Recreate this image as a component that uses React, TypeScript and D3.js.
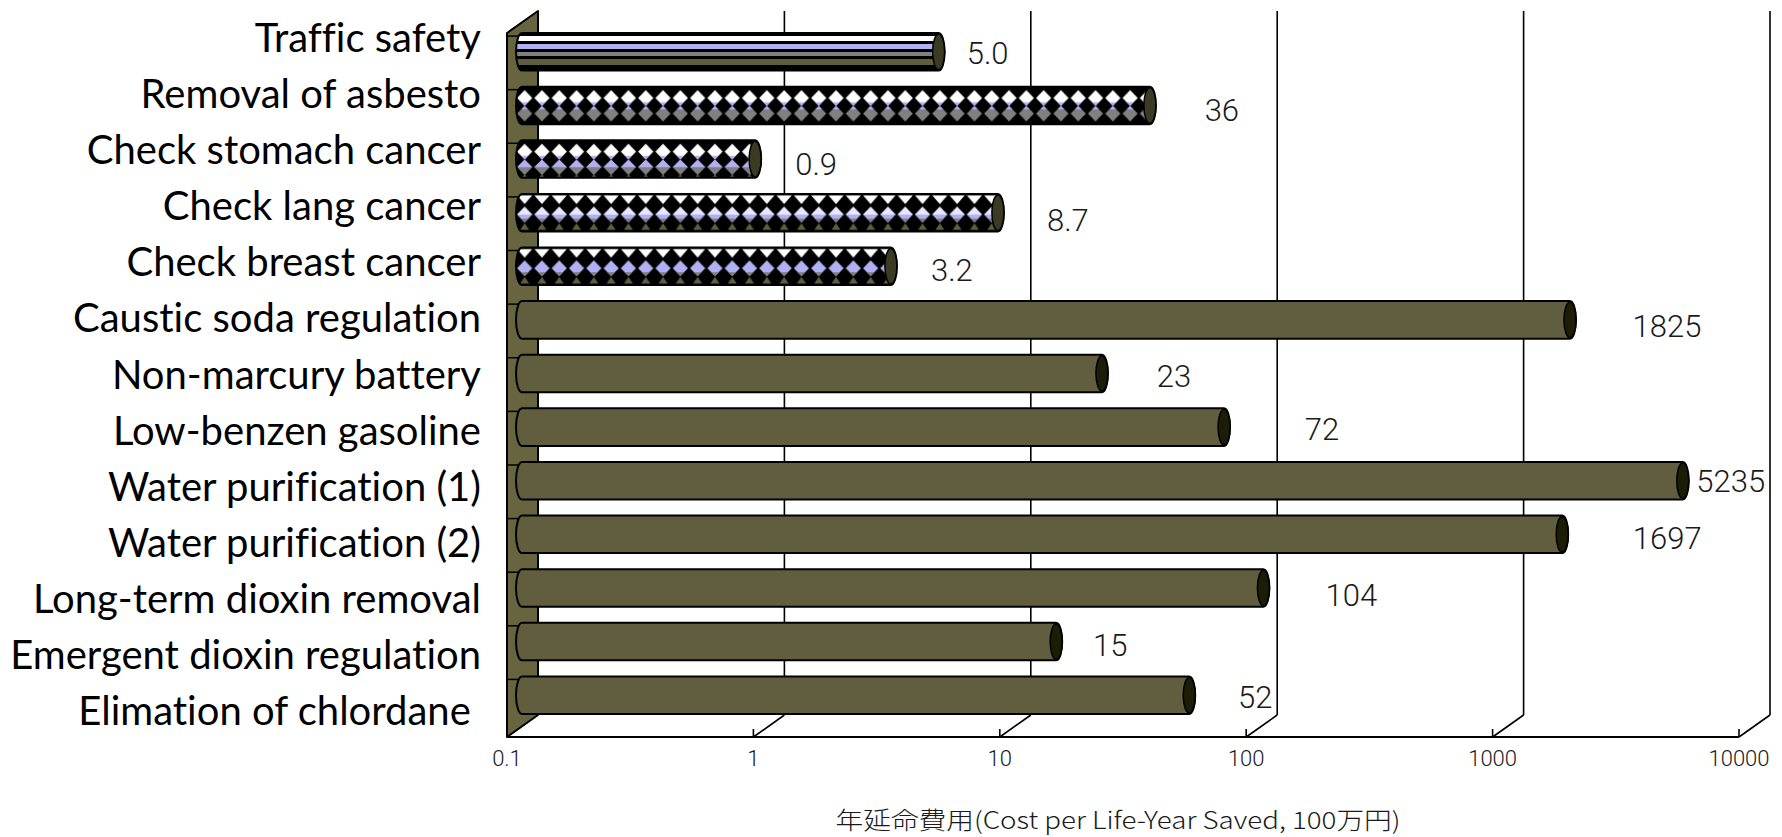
import React from 'react';
import * as d3 from 'd3';

// ---------- data ----------
const categories = [
  'Traffic safety',
  'Removal of asbesto',
  'Check stomach cancer',
  'Check lang cancer',
  'Check breast cancer',
  'Caustic soda regulation',
  'Non-marcury battery',
  'Low-benzen gasoline',
  'Water purification (1)',
  'Water purification (2)',
  'Long-term dioxin removal',
  'Emergent dioxin regulation',
  'Elimation of chlordane ',
];
const values = [5.0, 36, 0.9, 8.7, 3.2, 1825, 23, 72, 5235, 1697, 104, 15, 52];
const valueLabels = ['5.0', '36', '0.9', '8.7', '3.2', '1825', '23', '72', '5235', '1697', '104', '15', '52'];
const fillKinds = ['stripes', 'diamondA', 'diamondA2', 'diamondB', 'diamondB2', 'solid', 'solid', 'solid', 'solid', 'solid', 'solid', 'solid', 'solid'];
const tickValues = [0.1, 1, 10, 100, 1000, 10000];
const tickLabels = ['0.1', '1', '10', '100', '1000', '10000'];
const axisTitle = '年延命費用(Cost per Life-Year Saved, 100万円)';
// label nudges (px) relative to bar end / bar centre, as placed in the original
const labelNudgeX = [43, 66, 55, 64, 55, 91, 66, 92, 42, 99, 82, 48, 60];
const labelNudgeY = [1, 4, 5, 7, 4, 6, 2, 2, 0, 3, 7, 3, 2];

// ---------- layout ----------
const W = 1782;
const H = 837;
const DX = 31; // depth offset front->back
const DY = -22;
const frontTop = 33;
const frontBottom = 737;
const backTop = frontTop + DY;
const backBottom = frontBottom + DY;

const OLIVE = '#605e3f';
const WALL = '#67653f';
const CAP = '#1d1c06';
const LAV = '#b0b0f4';
const GRAY = '#808080';

const xFront = d3.scaleLog().domain([0.1, 10000]).range([507, 507 + 5 * 246.4]);
const xBack = (v: number) => xFront(v) + DX;
const barStartOffset = 9;
const barEndOffset = 19;

const yBand = d3.scaleBand<string>().domain(categories).range([25, 722]).paddingInner(0.3).paddingOuter(0.15);
const yLabel = d3.scalePoint<string>().domain(categories).range([52, 725]);

function barPath(x0: number, xe: number, top: number, h: number) {
  const r = 6;
  const bottom = top + h;
  return `M${x0 + r},${top} L${xe - r},${top} A${r},${h / 2} 0 0 1 ${xe - r},${bottom} L${x0 + r},${bottom} A${r},${h / 2} 0 0 1 ${x0 + r},${top} Z`;
}

function diamond(cx: number, cy: number, hw: number, hh: number) {
  return `${cx},${cy - hh} ${cx + hw},${cy} ${cx},${cy + hh} ${cx - hw},${cy}`;
}

function PatternDef({ id, kind, x, y, h }: { id: string; kind: string; x: number; y: number; h: number }) {
  const w = 17.3;
  const cx = w / 2;
  const hw = 7.6;
  if (kind === 'diamondA' || kind === 'diamondA2') {
    const c1 = h * 0.3;
    const c2 = h * 0.72;
    const hh = h * 0.21;
    return (
      <pattern id={id} patternUnits="userSpaceOnUse" x={x} y={y} width={w} height={h}>
        <rect x={0} y={0} width={w} height={h} fill="#000" />
        <polygon points={diamond(cx, c1, hw, hh)} fill="#fff" />
        <polygon points={`${cx - hw * 0.45},${c1 + hh * 0.55} ${cx + hw * 0.45},${c1 + hh * 0.55} ${cx},${c1 + hh}`} fill={LAV} />
        <polygon points={diamond(cx, c2, hw, hh)} fill={GRAY} />
        {kind === 'diamondA' ? (
          <polygon points={`${cx - hw * 0.45},${c2 - hh * 0.55} ${cx + hw * 0.45},${c2 - hh * 0.55} ${cx},${c2 - hh}`} fill={LAV} />
        ) : (
          <polygon points={`${cx - hw},${c2} ${cx},${c2 - hh} ${cx + hw},${c2}`} fill={LAV} />
        )}
        {kind === 'diamondA2' && (
          <polygon points={`${cx - 2.5},${h} ${cx + 2.5},${h} ${cx},${h - 4}`} fill={OLIVE} />
        )}
      </pattern>
    );
  }
  // diamondB / diamondB2
  const cm = h * 0.55;
  const hh = h * 0.21;
  return (
    <pattern id={id} patternUnits="userSpaceOnUse" x={x} y={y} width={w} height={h}>
      <rect x={0} y={0} width={w} height={h} fill="#000" />
      <polygon points={`${cx - hw},${h * 0.04} ${cx + hw},${h * 0.04} ${cx},${h * 0.27}`} fill="#fff" />
      <polygon points={diamond(cx, cm, hw, hh)} fill={LAV} />
      {kind === 'diamondB' ? (
        <polygon points={`${cx - hw},${cm} ${cx},${cm - hh} ${cx + hw},${cm}`} fill="#e6e6fc" />
      ) : null}
      <polygon points={`${cx - hw * 0.5},${cm + hh * 0.5} ${cx + hw * 0.5},${cm + hh * 0.5} ${cx},${cm + hh}`} fill={GRAY} />
      <polygon points={`${cx - hw * 0.6},${h * 0.96} ${cx + hw * 0.6},${h * 0.96} ${cx},${h * 0.78}`} fill={OLIVE} />
    </pattern>
  );
}

export default function App() {
  const bw = yBand.bandwidth();
  const x0 = xFront(0.1) + barStartOffset;

  return (
    <svg
      width={W}
      height={H}
      viewBox={`0 0 ${W} ${H}`}
      style={{ position: 'absolute', left: 0, top: 0, background: '#fff' }}
    >
      <defs>
        <linearGradient id="stripes" x1="0" y1="0" x2="0" y2="1">
          <stop offset="0" stopColor="#000" />
          <stop offset="0.07" stopColor="#000" />
          <stop offset="0.07" stopColor="#fff" />
          <stop offset="0.2" stopColor="#fff" />
          <stop offset="0.2" stopColor="#000" />
          <stop offset="0.28" stopColor="#000" />
          <stop offset="0.28" stopColor={LAV} />
          <stop offset="0.42" stopColor={LAV} />
          <stop offset="0.42" stopColor="#000" />
          <stop offset="0.5" stopColor="#000" />
          <stop offset="0.5" stopColor={GRAY} />
          <stop offset="0.62" stopColor={GRAY} />
          <stop offset="0.62" stopColor="#000" />
          <stop offset="0.7" stopColor="#000" />
          <stop offset="0.7" stopColor={OLIVE} />
          <stop offset="0.86" stopColor={OLIVE} />
          <stop offset="0.86" stopColor="#000" />
          <stop offset="1" stopColor="#000" />
        </linearGradient>
        {categories.map((c, i) =>
          fillKinds[i].startsWith('diamond') ? (
            <PatternDef key={c} id={`pat${i}`} kind={fillKinds[i]} x={x0} y={yBand(c) as number} h={bw} />
          ) : null
        )}
      </defs>

      {/* left wall */}
      <polygon
        points={`${xFront(0.1)},${frontTop} ${xBack(0.1)},${backTop} ${xBack(0.1)},${backBottom} ${xFront(0.1)},${frontBottom}`}
        fill={WALL}
        stroke="#000"
        strokeWidth={2}
        strokeLinejoin="round"
      />

      {/* gridlines on back wall + floor diagonals */}
      {tickValues.slice(1).map((v) => (
        <g key={v} stroke="#000" strokeWidth={1.6} fill="none">
          <line x1={xBack(v)} y1={backTop} x2={xBack(v)} y2={backBottom} />
          <line x1={xBack(v)} y1={backBottom} x2={xFront(v)} y2={frontBottom} />
          <line x1={xFront(v)} y1={frontBottom} x2={xFront(v)} y2={frontBottom - 8} />
        </g>
      ))}
      {/* front baseline */}
      <line x1={xFront(0.1)} y1={frontBottom} x2={xFront(10000)} y2={frontBottom} stroke="#000" strokeWidth={2} />

      {/* wall ticks */}
      {categories.map((c) => (
        <line
          key={`t${c}`}
          x1={xFront(0.1)}
          x2={x0 + 6}
          y1={(yBand(c) as number) + 3}
          y2={(yBand(c) as number) + 3}
          stroke="#000"
          strokeWidth={1.5}
        />
      ))}

      {/* bars */}
      {categories.map((c, i) => {
        const top = yBand(c) as number;
        const xe = xFront(values[i]) + barEndOffset;
        const kind = fillKinds[i];
        const fill = kind === 'solid' ? OLIVE : kind === 'stripes' ? 'url(#stripes)' : `url(#pat${i})`;
        return (
          <g key={c}>
            <path d={barPath(x0, xe, top, bw)} fill={fill} stroke="#000" strokeWidth={2} />
            <ellipse
              cx={xe - 6}
              cy={top + bw / 2}
              rx={6}
              ry={bw / 2 - 1}
              fill={kind === 'solid' ? CAP : '#3b3a22'}
              stroke="#000"
              strokeWidth={1.5}
            />
          </g>
        );
      })}

      {/* value labels */}
      {categories.map((c, i) => (
        <text
          key={`v${c}`}
          x={xFront(values[i]) + barEndOffset + labelNudgeX[i]}
          y={(yBand(c) as number) + bw / 2 + labelNudgeY[i]}
          dy="0.36em"
          textAnchor="middle"
          fontFamily="Roboto, 'Liberation Sans', sans-serif"
          fontWeight={300}
          fontSize={31}
          fill="#1a1a1a"
        >
          {valueLabels[i]}
        </text>
      ))}

      {/* category labels */}
      {categories.map((c) => (
        <text
          key={`l${c}`}
          x={481}
          y={yLabel(c) as number}
          textAnchor="end"
          fontFamily="Lato, 'Noto Sans', sans-serif"
          fontSize={40}
          fill="#000"
          style={{ whiteSpace: 'pre', fontVariantLigatures: 'none', fontFeatureSettings: '"liga" 0, "dlig" 0' }}
        >
          {c}
        </text>
      ))}

      {/* x tick labels */}
      {tickValues.map((v, i) => (
        <text
          key={`x${v}`}
          x={xFront(v)}
          y={766}
          textAnchor="middle"
          fontFamily="Roboto, 'Liberation Sans', sans-serif"
          fontWeight={300}
          fontSize={22}
          fill="#1a1a1a"
        >
          {tickLabels[i]}
        </text>
      ))}

      {/* axis title */}
      <text
        x={1118}
        y={829}
        textAnchor="middle"
        fontFamily="'Noto Sans CJK JP', sans-serif"
        fontWeight={300}
        fontSize={24}
        textLength={565}
        lengthAdjust="spacingAndGlyphs"
        fill="#1a1a1a"
      >
        {axisTitle}
      </text>
    </svg>
  );
}
